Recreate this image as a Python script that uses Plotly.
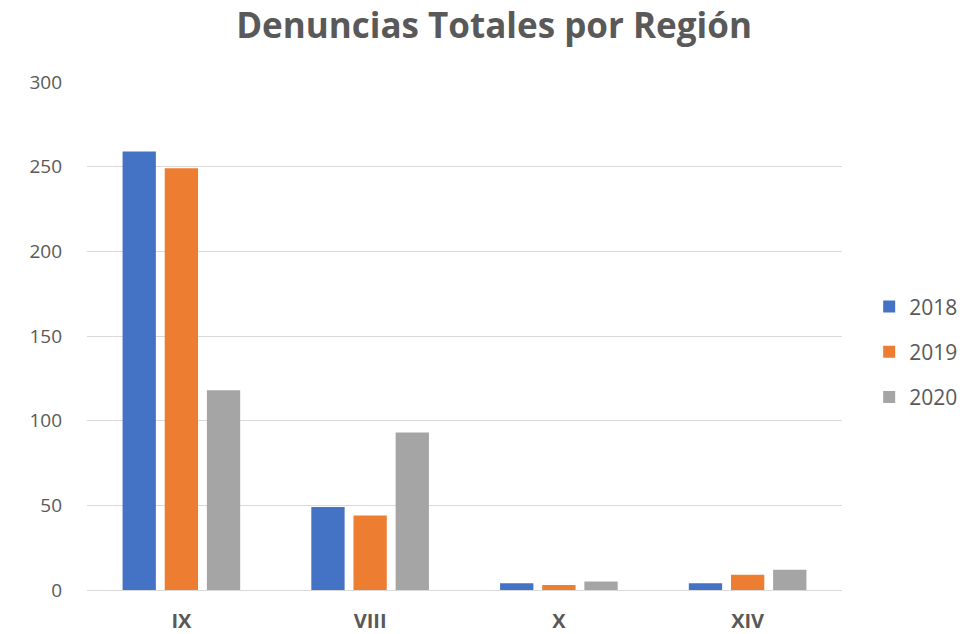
import plotly.graph_objects as go

regions = ["IX", "VIII", "X", "XIV"]
years = ["2018", "2019", "2020"]
v2018 = [259, 49, 4, 4]
v2019 = [249, 44, 3, 9]
v2020 = [118, 93, 5, 12]
colors = ["#4472C4", "#ED7D31", "#A5A5A5"]

fig = go.Figure()
for name, vals, c in zip(years, [v2018, v2019, v2020], colors):
    fig.add_trace(go.Bar(x=regions, y=vals, name=name, marker_color=c,
                         marker_line_width=0, legendgroup=name))

font_fam = "'Open Sans', sans-serif"
fig.update_layout(
    width=971, height=634,
    margin=dict(l=87, r=129, t=82, b=44, autoexpand=False),
    paper_bgcolor="white", plot_bgcolor="white",
    barmode="group", bargap=0.33, bargroupgap=0.21,
    title=dict(text="<b>Denuncias Totales por Región</b>", x=0.5088, xanchor="center",
               y=0.960, yanchor="middle",
               font=dict(family=font_fam, size=35, color="#595959")),
    font=dict(family=font_fam, color="#595959"),
    legend=dict(x=1.036, xanchor="left", y=0.469, yanchor="middle",
                font=dict(size=21, color="#595959"), tracegroupgap=15,
                itemwidth=30),
    showlegend=True,
)
fig.update_yaxes(range=[0, 300], dtick=50, showgrid=True, gridcolor="#D9D9D9",
                 gridwidth=1, zeroline=True, zerolinecolor="#D9D9D9", zerolinewidth=1,
                 tickfont=dict(size=19, color="#595959"), ticklabelstandoff=24,
                 showline=False, automargin=False)
fig.update_xaxes(showline=True, linecolor="#D9D9D9", linewidth=1,
                 tickfont=dict(size=20, color="#595959"), ticklabelstandoff=13,
                 tickprefix="<b>", ticksuffix="</b>", automargin=False)

fig.write_html("out.html", config={"displayModeBar": False},
               post_script="document.body.style.margin='0';")
